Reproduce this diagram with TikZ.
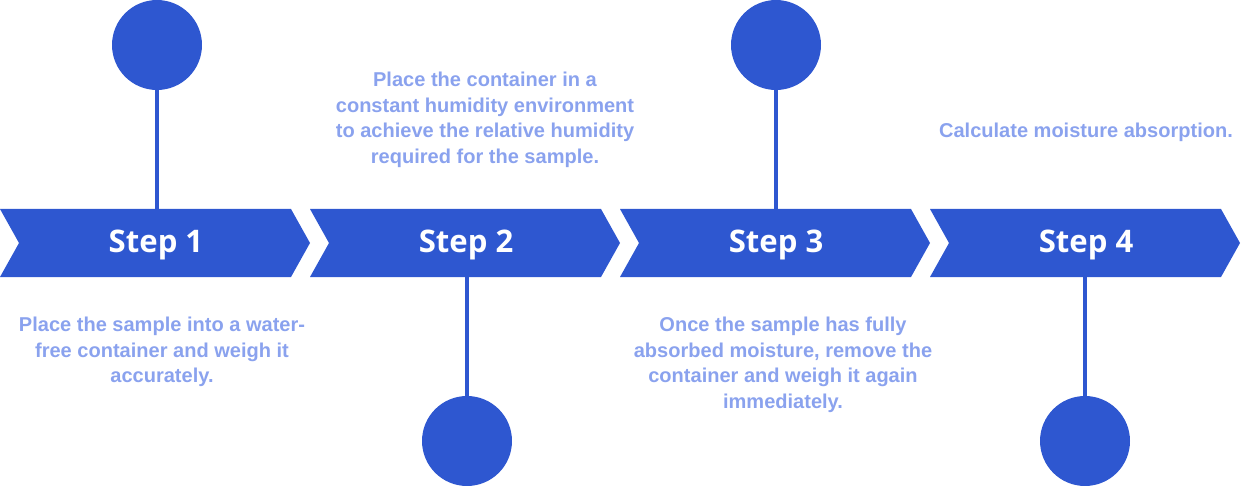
\documentclass[tikz,border=0pt]{standalone}
\usepackage{fontspec}
\setmainfont{Liberation Sans}
\newfontfamily\stepfont{Open Sans}
\definecolor{mainblue}{HTML}{2E57D0}
\definecolor{txtblue}{HTML}{8AA2EE}
\begin{document}
\begin{tikzpicture}[x=0.02cm,y=-0.02cm,
  chev/.style={fill=mainblue,draw=none},
  dot/.style={circle,fill=mainblue,minimum size=1.8cm,inner sep=0},
  stick/.style={draw=mainblue,line width=2.2pt},
  lbl/.style={text=white,font=\stepfont\bfseries\fontsize{17.7}{21}\selectfont},
  desc/.style={text=txtblue,font=\bfseries\fontsize{11.4}{14.5}\selectfont,align=center}]
\useasboundingbox (0,0) rectangle (1243,486);
\foreach \i/\s in {0/1,1/2,2/3,3/4}{
  \fill[chev] ({\i*310},209) -- ({\i*310+291},209) -- ({\i*310+310},243) -- ({\i*310+291},277) -- ({\i*310},277) -- ({\i*310+19},243) -- cycle;
  \node[lbl] (s\s) at ({\i*310+156},245) {Step \s};
}
\node[dot] (c1) at (157,45) {};
\node[dot] (c2) at (467,441) {};
\node[dot] (c3) at (776,45) {};
\node[dot] (c4) at (1085,441) {};
\coordinate (t1) at (157,209); \coordinate (t2) at (467,277);
\coordinate (t3) at (776,209); \coordinate (t4) at (1085,277);
\foreach \k in {1,2,3,4}{\draw[stick] (c\k) -- (t\k);}
\node[desc] (d1) at (162,352) {Place the sample into a water-\\free container and weigh it\\accurately.};
\node[desc] (d2) at (485,120) {Place the container in a\\constant humidity environment\\to achieve the relative humidity\\required for the sample.};
\node[desc] (d3) at (783,365) {Once the sample has fully\\absorbed moisture, remove the\\container and weigh it again\\immediately.};
\node[desc] (d4) at (1086,132) {Calculate moisture absorption.};
\end{tikzpicture}
\end{document}
